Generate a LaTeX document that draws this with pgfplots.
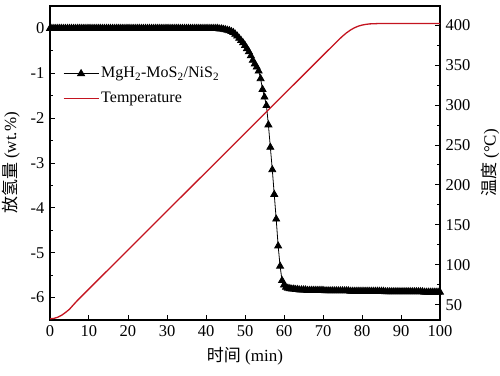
\documentclass[border=0pt]{standalone}
\usepackage{pgfplots}
\pgfplotsset{compat=1.18}
\usepackage{fontspec}
\setmainfont{Liberation Serif}
\newfontfamily\cjk{Noto Sans CJK SC}
\definecolor{tred}{RGB}{196,20,32}

\begin{document}
\fontsize{16}{19}\selectfont
\begin{tikzpicture}
\useasboundingbox (-50pt,-55pt) rectangle (450pt,320pt);
\pgfplotsset{
 every axis/.append style={
  scale only axis, width=390pt, height=314pt, xmin=0, xmax=100,
  tick align=inside,
  axis line style={line width=1.1pt},
  major tick length=5pt, minor tick length=3pt,
  every tick/.style={black, line width=1pt},
  tick label style={font=\fontsize{16.5}{19}\selectfont},
  label style={font=\fontsize{17}{20}\selectfont},
  /pgf/number format/assume math mode=true,
  legend image code/.code={\draw[mark repeat=2,mark phase=2,#1] plot coordinates {(0pt,0pt) (17.5pt,0pt) (35pt,0pt)};},
 }
}
\begin{axis}[at={(0,0)}, anchor=south west,
  ymin=-6.5, ymax=0.5,
  xtick={0,10,...,100}, ytick={-6,-5,...,0},
  minor y tick num=1,
  xtick pos=bottom, ytick pos=left,
  xlabel={{\cjk 时间} (min)},
  ylabel={{\cjk 放氢量} (wt.\%)},
]
\addplot[black, line width=0.8pt, mark=triangle*, mark size=4pt, mark options={solid}] coordinates {
(0,0)(0.5,0)(1,0)(1.5,0)(2,0)(2.5,0)(3,0)(3.5,0)(4,0)(4.5,0)(5,0)(5.5,0)(6,0)(6.5,0)(7,0)(7.5,0)(8,0)(8.5,0)(9,0)(9.5,0)
(10,0)(10.5,0)(11,0)(11.5,0)(12,0)(12.5,0)(13,0)(13.5,0)(14,0)(14.5,0)(15,0)(15.5,0)(16,0)(16.5,0)(17,0)(17.5,0)(18,0)(18.5,0)(19,0)(19.5,0)
(20,0)(20.5,0)(21,0)(21.5,0)(22,0)(22.5,0)(23,0)(23.5,0)(24,0)(24.5,0)(25,0)(25.5,0)(26,0)(26.5,0)(27,0)(27.5,0)(28,0)(28.5,0)(29,0)(29.5,0)
(30,0)(30.5,0)(31,0)(31.5,0)(32,0)(32.5,0)(33,0)(33.5,0)(34,0)(34.5,0)(35,0)(35.5,0)(36,0)(36.5,0)(37,0)(37.5,0)(38,0)(38.5,0)(39,0)(39.5,0)
(40,0)(40.5,0)(41,0)(41.5,0)(42,0)(42.5,0)(43,0)(43.5,-0.01)(44,-0.01)(44.5,-0.02)(45,-0.03)(45.5,-0.04)(46,-0.05)(46.5,-0.07)(47,-0.09)(47.5,-0.13)(48,-0.17)(48.5,-0.22)(49,-0.27)(49.5,-0.32)
(50,-0.38)(50.5,-0.45)(51,-0.52)(51.5,-0.61)(52,-0.71)(52.5,-0.79)(53,-0.86)(53.5,-0.95)(54,-1.12)(54.5,-1.36)(55,-1.53)(55.5,-1.72)(56,-2.15)(56.5,-2.65)(57,-3.15)(57.5,-3.70)(58,-4.25)(58.5,-4.85)(59,-5.30)(59.5,-5.62)
(60,-5.72)(60.5,-5.77)(61,-5.79)(61.5,-5.80)(62,-5.81)(62.5,-5.81)(63,-5.82)(63.5,-5.82)(64,-5.83)(64.5,-5.83)(65,-5.83)(65.5,-5.83)(66,-5.84)(66.5,-5.84)(67,-5.84)(67.5,-5.84)(68,-5.84)(68.5,-5.84)(69,-5.84)(69.5,-5.84)
(70,-5.84)(70.5,-5.85)(71,-5.85)(71.5,-5.85)(72,-5.85)(72.5,-5.85)(73,-5.85)(73.5,-5.85)(74,-5.85)(74.5,-5.85)(75,-5.85)(75.5,-5.85)(76,-5.85)(76.5,-5.85)(77,-5.86)(77.5,-5.86)(78,-5.86)(78.5,-5.86)(79,-5.86)(79.5,-5.86)
(80,-5.86)(80.5,-5.86)(81,-5.86)(81.5,-5.86)(82,-5.86)(82.5,-5.86)(83,-5.86)(83.5,-5.86)(84,-5.86)(84.5,-5.86)(85,-5.86)(85.5,-5.86)(86,-5.87)(86.5,-5.87)(87,-5.87)(87.5,-5.87)(88,-5.87)(88.5,-5.87)(89,-5.87)(89.5,-5.87)
(90,-5.87)(90.5,-5.87)(91,-5.87)(91.5,-5.87)(92,-5.87)(92.5,-5.87)(93,-5.87)(93.5,-5.87)(94,-5.87)(94.5,-5.87)(95,-5.87)(95.5,-5.87)(96,-5.88)(96.5,-5.88)(97,-5.88)(97.5,-5.88)(98,-5.88)(98.5,-5.88)(99,-5.88)(99.5,-5.88)
(100,-5.88)
};
\end{axis}
\begin{axis}[at={(0,0)}, anchor=south west,
  ymin=31, ymax=424,
  axis x line=none, axis y line*=right,
  ytick={50,100,...,400}, minor y tick num=1,
  ylabel={{\cjk 温度} (°C)},
  legend cell align=left,
  legend style={draw=none, fill=none, at={(0.025,0.745)}, anchor=west,
    font=\fontsize{16}{19}\selectfont, row sep=8pt},
]
\addlegendimage{black, line width=0.8pt, mark=triangle*, mark size=4pt, mark options={solid}}
\addlegendentry{MgH\textsubscript{2}-MoS\textsubscript{2}/NiS\textsubscript{2}}
\addplot[tred, line width=1.3pt] coordinates {
(0,32.5)(1,33)(2,34.5)(3,37)(4,40.5)(5,44.5)(6,50)(7,55.3)(8,60.2)(10,70)(15,94.3)(20,118.7)(25,143)(30,167.4)(35,191.7)(40,216)(45,240.4)(50,264.8)(55,289.1)(60,313.5)(65,337.8)(70,362.2)(74,381.6)(75,386.2)(76,390.3)(77,393.8)(78,396.6)(79,398.7)(80,400.1)(81,401)(82,401.6)(84,402)(88,402.2)(95,402.2)(100,402)
};
\addlegendentry{Temperature}
\end{axis}
\end{tikzpicture}
\end{document}
